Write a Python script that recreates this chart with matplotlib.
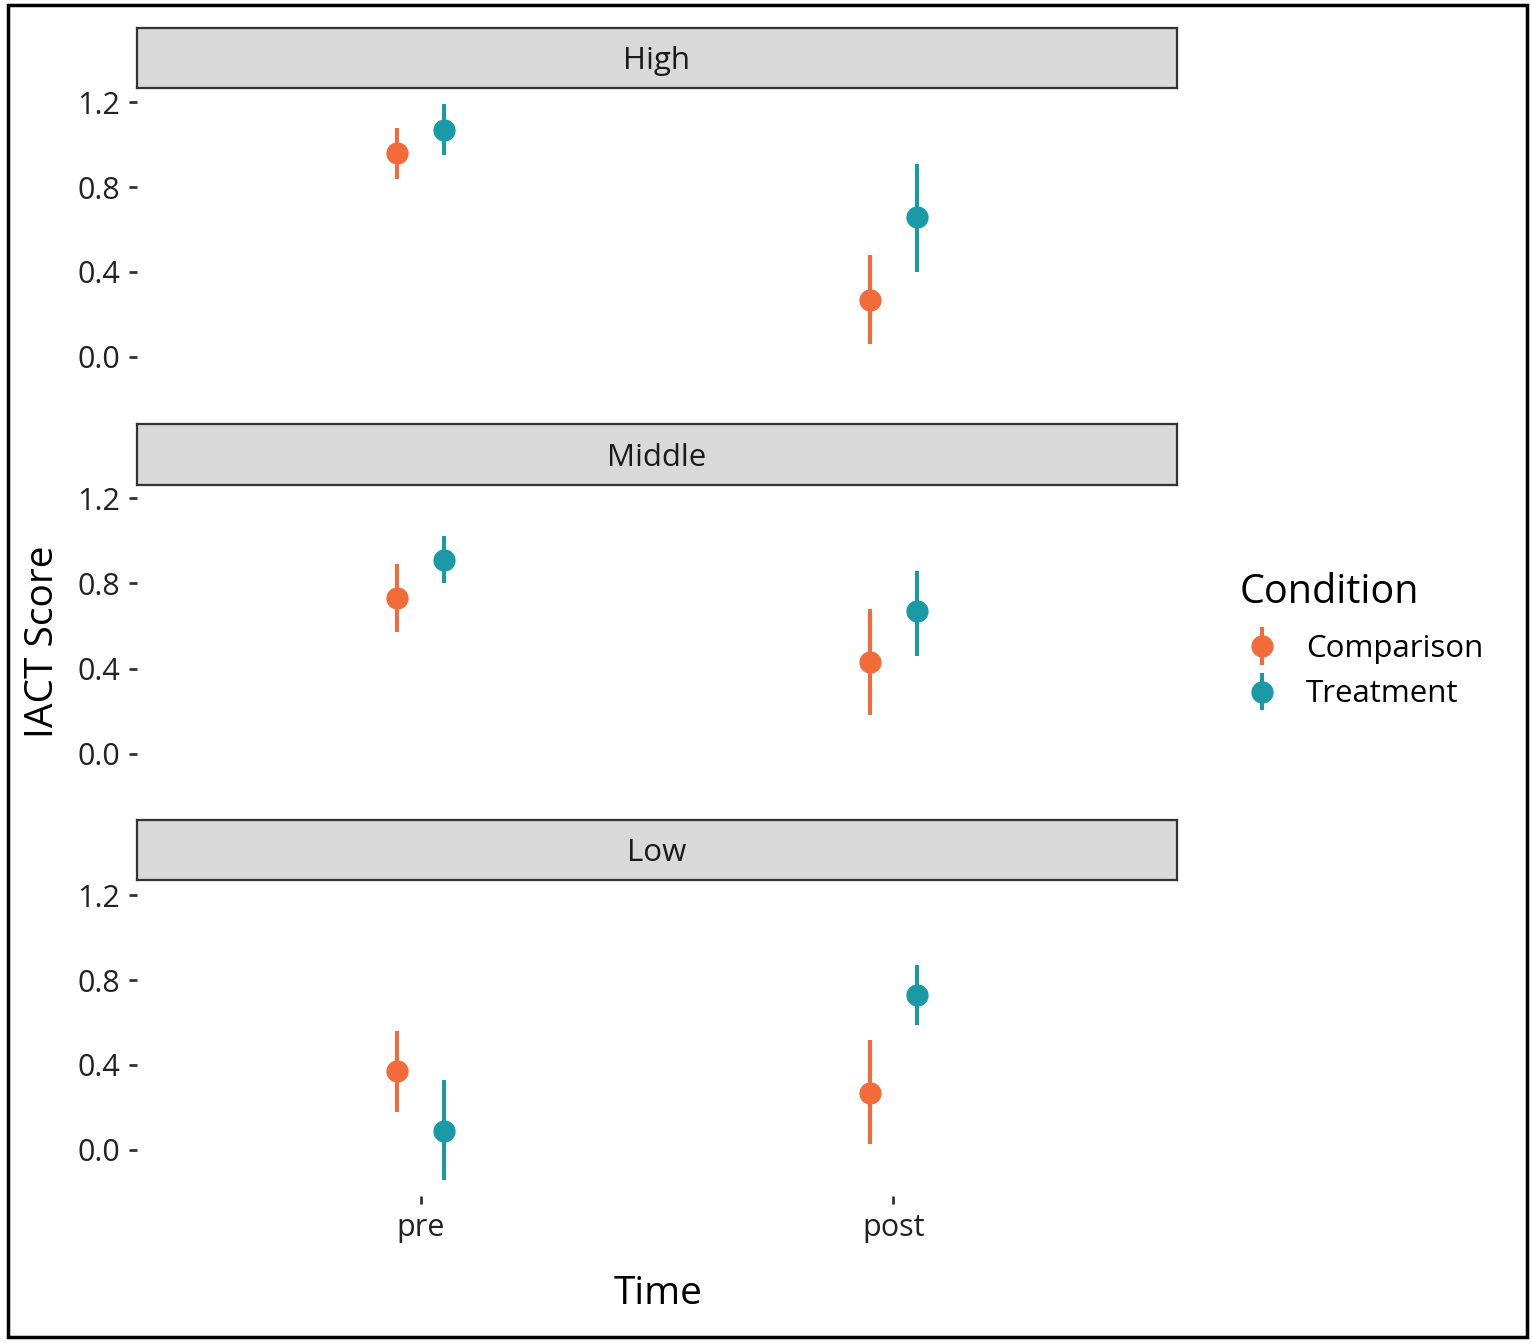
import numpy as np
import matplotlib.pyplot as plt
from matplotlib.patches import Rectangle
from matplotlib.container import ErrorbarContainer
from matplotlib.legend_handler import HandlerErrorbar

plt.rcParams['font.family'] = ['Open Sans', 'DejaVu Sans']

# Donnees
panels = ["High", "Middle", "Low"]
times = ["pre", "post"]
conditions = ["Comparison", "Treatment"]

# moyenne, borne basse, borne haute : [panel][temps]
comp_mean = [[0.96, 0.27], [0.73, 0.43], [0.37, 0.27]]
comp_low = [[0.84, 0.06], [0.57, 0.18], [0.18, 0.03]]
comp_high = [[1.08, 0.48], [0.89, 0.68], [0.56, 0.52]]

treat_mean = [[1.07, 0.66], [0.91, 0.67], [0.09, 0.73]]
treat_low = [[0.95, 0.40], [0.80, 0.46], [-0.14, 0.59]]
treat_high = [[1.19, 0.91], [1.02, 0.86], [0.33, 0.87]]

colors = {"Comparison": "#F26B38", "Treatment": "#1A9AA6"}
yticks = [0.0, 0.4, 0.8, 1.2]

W, H = 1532, 1344
fig = plt.figure(figsize=(W / 100, H / 100), dpi=100)


def fig_rect(x0, y0, x1, y1):
    # coordonnees pixel (origine en haut) -> fraction de figure
    return [x0 / W, 1 - y1 / H, (x1 - x0) / W, (y1 - y0) / H]


panel_px = [(90, 403), (486, 800), (883, 1196)]
strip_px = [(28, 88), (424, 485), (820, 880)]
x_left, x_right = 137, 1177

series = {
    "Comparison": (comp_mean, comp_low, comp_high, -0.05),
    "Treatment": (treat_mean, treat_low, treat_high, 0.05),
}

handles = {}
for i, name in enumerate(panels):
    top, bot = panel_px[i]
    ax = fig.add_axes(fig_rect(x_left, top, x_right, bot))
    x = np.arange(1, len(times) + 1)
    for cond in conditions:
        mean, lo, hi, off = series[cond]
        m = np.array(mean[i])
        err = np.vstack([m - np.array(lo[i]), np.array(hi[i]) - m])
        h = ax.errorbar(x + off, m, yerr=err, fmt="o", color=colors[cond],
                        ms=15, elinewidth=2.9, capsize=0)
        handles[cond] = h
    ax.set_xlim(0.4, 2.6)
    ax.set_ylim(-0.217, 1.257)
    ax.set_yticks(yticks)
    ax.set_yticklabels([f"{v:.1f}" for v in yticks])
    for s in ax.spines.values():
        s.set_visible(False)
    ax.tick_params(axis="y", length=6, width=2, color="#333333", labelsize=22,
                   labelcolor="#222222", pad=6)
    ax.set_xticks(x)
    if i == len(panels) - 1:
        ax.set_xticklabels(times)
        ax.tick_params(axis="x", length=6, width=2, color="#333333", labelsize=22,
                       labelcolor="#222222", pad=6)
    else:
        ax.tick_params(axis="x", length=0, labelbottom=False)

    # bandeau de facette
    s0, s1 = strip_px[i]
    sax = fig.add_axes(fig_rect(x_left, s0, x_right, s1))
    sax.set_xticks([])
    sax.set_yticks([])
    sax.set_facecolor("#D9D9D9")
    for sp in sax.spines.values():
        sp.set_linewidth(1.6)
        sp.set_color("#333333")
    sax.text(0.5, 0.45, name, ha="center", va="center", fontsize=22.5,
             color="#1a1a1a", transform=sax.transAxes)

fig.text(43 / W, 1 - 642 / H, "IACT Score", rotation=90, ha="center",
         va="center", fontsize=28)
fig.text(658 / W, 1 - 1294 / H, "Time", ha="center", va="center", fontsize=28)

leg = fig.legend([handles[c] for c in conditions], conditions,
                 loc="upper left", bbox_to_anchor=(1234 / W, 1 - 560 / H),
                 frameon=False, fontsize=22.5, title="Condition",
                 title_fontsize=28.5, labelspacing=0.5, handlelength=1.0,
                 handletextpad=0.9, borderaxespad=0,
                 handler_map={ErrorbarContainer: HandlerErrorbar(yerr_size=0.6)})
leg._legend_box.align = "left"
leg._legend_box.sep = 15
leg.get_title().set_position((-7, 0))

fig.add_artist(Rectangle((8 / W, 1 - 1337 / H), 1519 / W, 1332 / H,
                         transform=fig.transFigure, fill=False,
                         edgecolor="black", linewidth=2.5))

fig.savefig("out.png", dpi=100)
